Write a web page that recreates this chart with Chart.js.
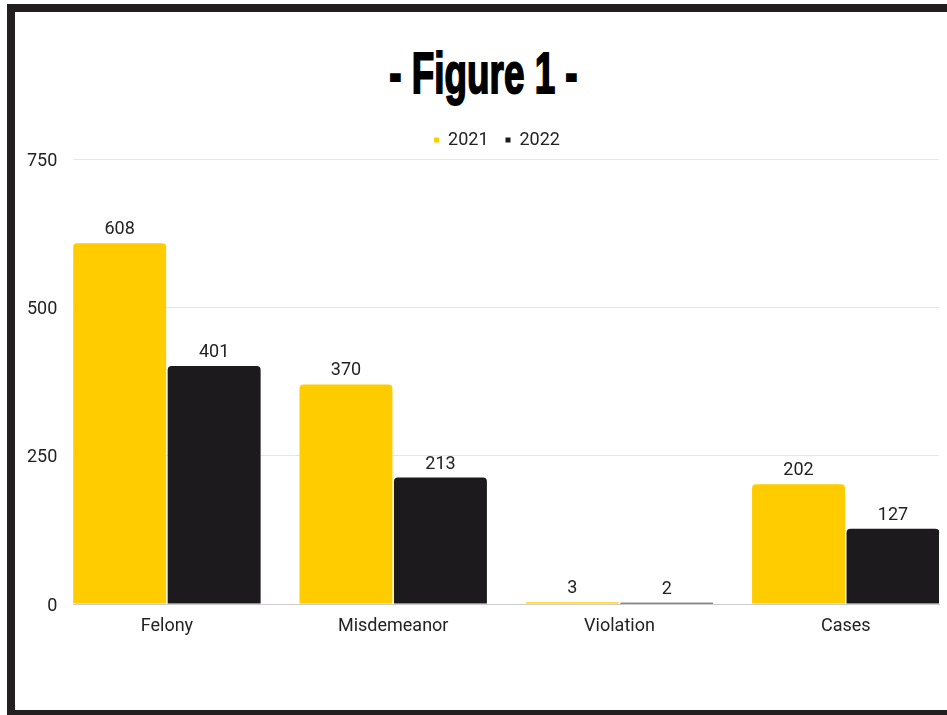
<!DOCTYPE html>
<html lang="en">
<head>
    <meta charset="UTF-8">
    <title>Figure 1</title>
    <style>
        html, body { margin: 0; padding: 0; background: #fff; overflow: hidden; }
        .frame {
            position: absolute; left: 7px; top: 4px; width: 960px; height: 698px;
            border-left: 8px solid #231f20; border-top: 8px solid #231f20; border-bottom: 5px solid #231f20;
        }
        .title {
            position: absolute; left: 10px; top: 44px; width: 947px; text-align: center;
            font-family: "Liberation Sans Narrow", "Liberation Sans", sans-serif; font-weight: bold;
            font-size: 58px; line-height: 58px; color: #000;
            transform: scaleX(0.635); -webkit-text-stroke: 2px #000;
        }
        #chart { position: absolute; left: 0; top: 0; }
    </style>
</head>
<body>
    <div class="frame"></div>
    <div class="title">- Figure 1 -</div>
    <canvas id="chart" width="947" height="715"></canvas>
    <script src="https://cdn.jsdelivr.net/npm/chart.js@4"></script>
    <script>
        const categories = ["Felony", "Misdemeanor", "Violation", "Cases"];
        const values2021 = [608, 370, 3, 202];
        const values2022 = [401, 213, 2, 127];
        const yTicks = [0, 250, 500, 750];

        const toPoints = (vals) => vals.map((v, i) => ({x: i, y: v}));

        // value labels above each bar
        const barLabels = {
            id: "barLabels",
            afterDatasetsDraw(chart) {
                const ctx = chart.ctx;
                ctx.save();
                ctx.font = "18px Roboto";
                ctx.fillStyle = "#222";
                ctx.textAlign = "center";
                ctx.textBaseline = "alphabetic";
                chart.data.datasets.forEach((ds, di) => {
                    chart.getDatasetMeta(di).data.forEach((bar, i) => {
                        ctx.fillText(ds.data[i].y, bar.x, bar.y - 9);
                    });
                });
                ctx.restore();
            }
        };

        new Chart("chart", {
            type: "bar",
            data: {
                datasets: [{
                    label: "2021",
                    data: toPoints(values2021),
                    backgroundColor: "#ffcc00",
                    borderRadius: 4,
                    borderSkipped: "start"
                }, {
                    label: "2022",
                    data: toPoints(values2022),
                    backgroundColor: "#1c1a1d",
                    borderRadius: 4,
                    borderSkipped: "start"
                }]
            },
            options: {
                responsive: false,
                animation: false,
                barPercentage: 0.984,
                categoryPercentage: 0.835,
                layout: {padding: {top: 114, left: 55, right: 8, bottom: 61}},
                plugins: {
                    legend: {
                        display: true,
                        position: "top",
                        labels: {
                            boxWidth: 5, boxHeight: 5, padding: 17,
                            color: "#222", font: {family: "Roboto", size: 18}
                        }
                    },
                    tooltip: {enabled: false}
                },
                scales: {
                    x: {
                        type: "linear",
                        offset: false,
                        min: -0.415,
                        max: 3.412,
                        afterBuildTicks: (s) => { s.ticks = categories.map((c, i) => ({value: i})); },
                        afterFit: (s) => { s.height = 50; },
                        grid: {display: false},
                        border: {display: true, color: "#cccccc", width: 1},
                        ticks: {
                            autoSkip: false, maxRotation: 0, padding: 4,
                            color: "#222", font: {family: "Roboto", size: 18},
                            callback: (v) => categories[v]
                        }
                    },
                    y: {
                        min: 0,
                        max: 750,
                        afterBuildTicks: (s) => { s.ticks = yTicks.map((v) => ({value: v})); },
                        afterFit: (s) => { s.width = 18; },
                        grid: {color: "#e6e6e6", drawTicks: false},
                        border: {display: false},
                        ticks: {
                            mirror: true, crossAlign: "far", padding: -46, labelOffset: 2,
                            color: "#222", font: {family: "Roboto", size: 18}
                        }
                    }
                }
            },
            plugins: [barLabels]
        });
    </script>
</body>
</html>
